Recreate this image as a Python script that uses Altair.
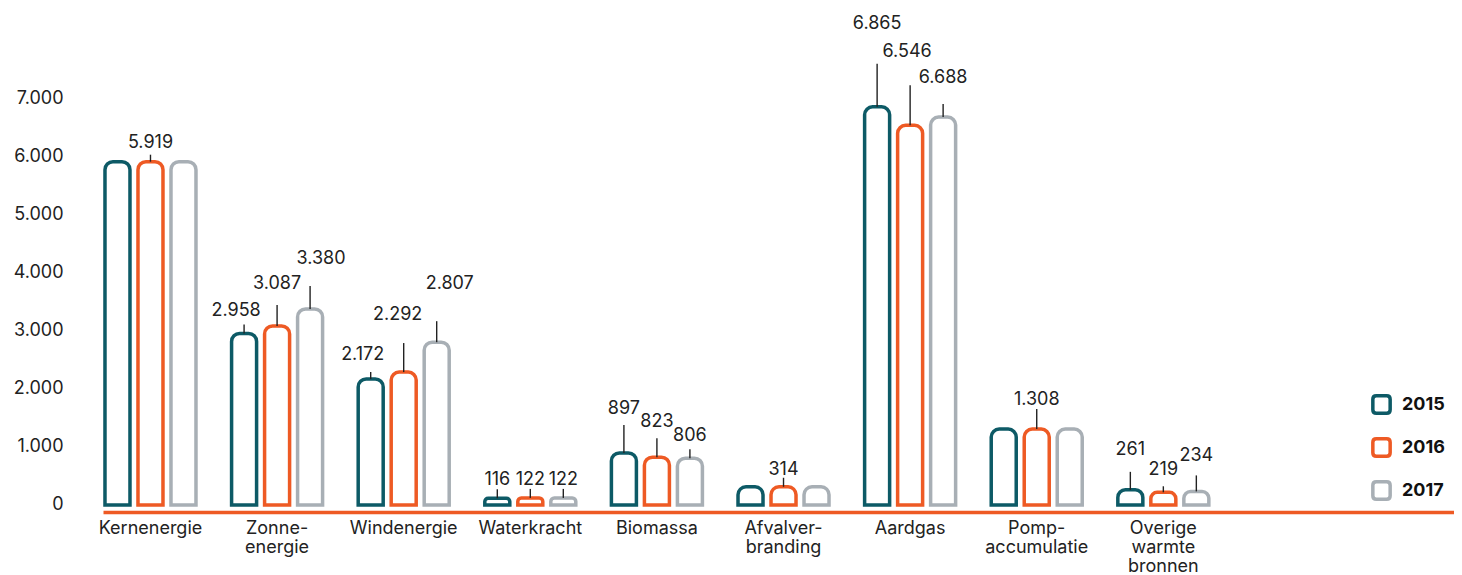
import altair as alt
import pandas as pd

# ---------------- data ----------------
categories = ["Kernenergie", "Zonne-|energie", "Windenergie", "Waterkracht", "Biomassa",
              "Afvalver-|branding", "Aardgas", "Pomp-|accumulatie", "Overige|warmte|bronnen"]
years = ["2015", "2016", "2017"]
values_2015 = [5919, 2958, 2172, 116, 897, 314, 6865, 1308, 261]
values_2016 = [5919, 3087, 2292, 122, 823, 314, 6546, 1308, 219]
values_2017 = [5919, 3380, 2807, 122, 806, 314, 6688, 1308, 234]
# 1 = bar carries a value label
labelled_2015 = [0, 1, 1, 1, 1, 0, 1, 0, 1]
labelled_2016 = [1, 1, 1, 1, 1, 1, 1, 1, 1]
labelled_2017 = [0, 1, 1, 1, 1, 0, 1, 0, 1]
y_ticks = [0, 1000, 2000, 3000, 4000, 5000, 6000, 7000]

# ---------------- styles (pixels) ----------------
leader_2015 = [0, 9, 7, 9, 28, 0, 43, 0, 18]
leader_2016 = [7, 21, 29, 9, 19, 9, 40, 20, 6]
leader_2017 = [0, 23, 21, 9, 9, 0, 13, 0, 16]
lift_2015 = [0, 22, 24, 18, 44, 0, 83, 0, 40]
lift_2016 = [19, 42, 57, 18, 35, 17, 73, 29, 22]
lift_2017 = [0, 50, 58, 18, 22, 0, 39, 0, 35]
nudge_2015 = [0, -8, -8, 0, 0, 0, 0, 0, 0]
nudge_2016 = [0, 0, -6, 0, 0, 0, -3, 0, 0]
nudge_2017 = [0, 11, 13, 0, 0, 0, 0, 0, 0]

colors = ["#0D5A66", "#EE5A24", "#A8AFB5"]
FONT = "Inter"
TXT = "#222222"
FS = 18

W, H = 1351, 504
DMIN, DMAX = -121, 8569
UPP = (DMAX - DMIN) / H

rows = []
series = list(zip(years,
                  [values_2015, values_2016, values_2017],
                  [labelled_2015, labelled_2016, labelled_2017],
                  [leader_2015, leader_2016, leader_2017],
                  [lift_2015, lift_2016, lift_2017],
                  [nudge_2015, nudge_2016, nudge_2017]))
for i, c in enumerate(categories):
    for yr, vals, lab, lead, lift, nud in series:
        rows.append(dict(category=c, year=yr, value=vals[i], labelled=lab[i],
                         leader=lead[i], lift=lift[i], nudge=nud[i]))
df = pd.DataFrame(rows)

x_scale = alt.Scale(paddingInner=0.2812, paddingOuter=0.976, align=0.008)
xo = alt.XOffset("year:N", sort=years, scale=alt.Scale(paddingInner=0.2424, paddingOuter=0))
y_scale = alt.Scale(domain=[DMIN, DMAX], nice=False, zero=False)

x_axis = alt.Axis(title=None, labelExpr="split(datum.label, '|')", labelAngle=0,
                  ticks=False, tickSize=0, labelPadding=7, labelBaseline="top",
                  labelFontSize=FS, labelColor=TXT, labelLineHeight=19, labelFont=FONT,
                  domainColor=colors[1], domainWidth=3.5, grid=False)
y_axis = alt.Axis(title=None, values=y_ticks, domain=False, ticks=False, grid=False,
                  labelPadding=40, labelFontSize=FS, labelColor=TXT, labelFont=FONT,
                  labelExpr="replace(format(datum.value, ','), ',', '.')")

X = alt.X("category:N", sort=categories, scale=x_scale, axis=x_axis)

base = alt.Chart(df)

bars = base.mark_bar(fill="white", strokeWidth=3.5, cornerRadiusTopLeft=8,
                     cornerRadiusTopRight=8).encode(
    x=X,
    xOffset=xo,
    y=alt.Y("value:Q", scale=y_scale, axis=y_axis),
    y2=alt.datum(0),
    stroke=alt.Stroke("year:N", sort=years,
                      scale=alt.Scale(domain=years, range=colors),
                      legend=alt.Legend(title=None, orient="none", legendX=1268, legendY=386,
                                        direction="vertical",
                                        symbolType="M-0.6,-1L0.6,-1Q1,-1 1,-0.6L1,0.6Q1,1 0.6,1L-0.6,1Q-1,1 -1,0.6L-1,-0.6Q-1,-1 -0.6,-1Z",
                                        symbolSize=300, symbolStrokeWidth=3.5,
                                        symbolFillColor="white", labelFontSize=FS,
                                        labelFontWeight="bold", labelFont=FONT,
                                        labelColor="#111111", labelOffset=10,
                                        rowPadding=10)),
)

lab = base.transform_filter("datum.labelled == 1").transform_calculate(
    top=f"datum.value + datum.leader * {UPP}",
    ty=f"datum.value + datum.lift * {UPP}",
    txt="replace(format(datum.value, ','), ',', '.')",
)

rules = lab.mark_rule(color=TXT, strokeWidth=1.4).encode(
    x=X, xOffset=xo,
    y=alt.Y("value:Q", scale=y_scale, axis=y_axis),
    y2="top:Q",
)

nudges = sorted(set(nudge_2015 + nudge_2016 + nudge_2017))
texts = [
    lab.transform_filter(f"datum.nudge == {n}").mark_text(
        dx=n, baseline="middle", align="center", fontSize=FS, color=TXT, font=FONT
    ).encode(
        x=X, xOffset=xo,
        y=alt.Y("ty:Q", scale=y_scale, axis=y_axis),
        text="txt:N",
    )
    for n in nudges
]

chart = alt.layer(bars, rules, *texts).properties(
    width=W, height=H,
    padding={"left": 95, "top": 0, "right": 0, "bottom": 62},
    autosize=alt.AutoSizeParams(type="none"),
).configure(font=FONT, background="white").configure_view(stroke=None)

chart.save("out.html", embed_options={"renderer": "svg", "actions": False})
